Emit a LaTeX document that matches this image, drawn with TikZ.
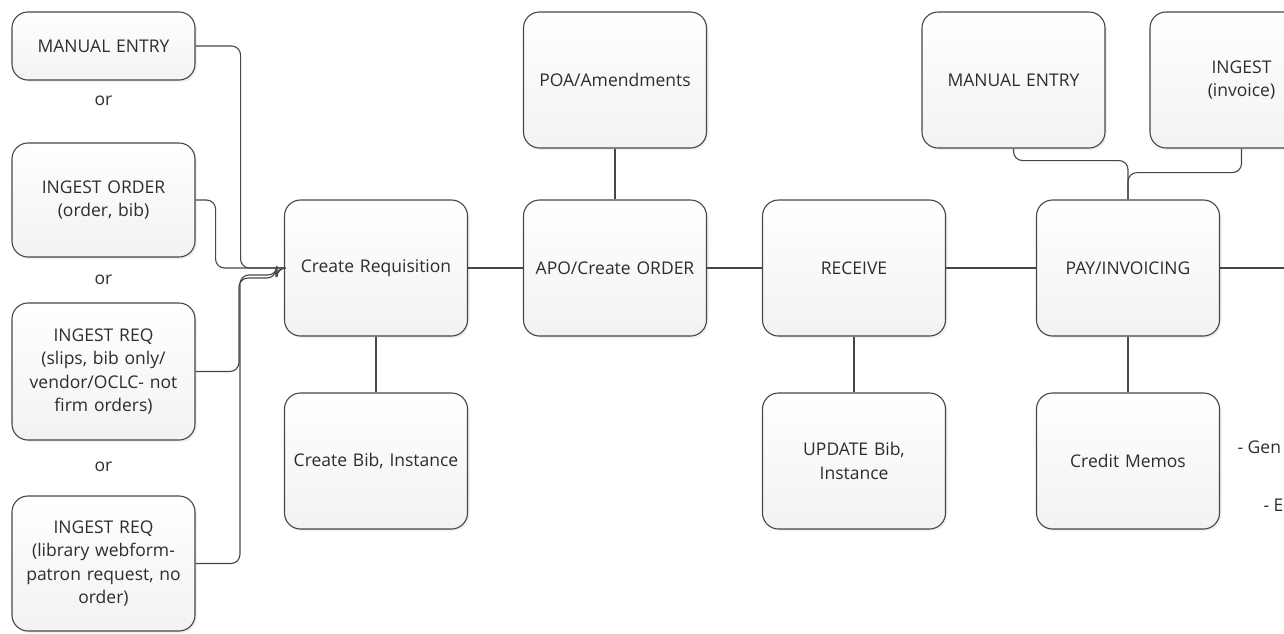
\documentclass[tikz,border=0pt]{standalone}
\usepackage{fontspec}
\setmainfont{Open Sans}
\usetikzlibrary{shapes, positioning, calc, shadows}

\definecolor{edge}{RGB}{70,70,70}
\definecolor{ink}{RGB}{45,45,45}
\tikzstyle{block} = [rectangle, draw=edge, line width=1.1pt, top color=white, bottom color=black!5, text=ink, text width=176pt, align=center, rounded corners=16pt, minimum width=183pt, minimum height=136pt, font=\fontsize{17.5}{23.5}\selectfont, drop shadow={opacity=0.12, shadow xshift=2pt, shadow yshift=-2pt}]
\tikzstyle{link} = [draw=edge, line width=1.1pt, rounded corners=9pt]
\tikzstyle{ortext} = [text=ink, font=\fontsize{17.5}{20}\selectfont]

\begin{document}
\begin{tikzpicture}[x=1pt, y=-1pt]
        \useasboundingbox (0,0) rectangle (1284,633);
        \clip (0,0) rectangle (1284,633);

        % Sources
        \node[block, minimum height=68pt] (man) at (103.5, 46) {MANUAL ENTRY};
        \node[ortext] (or1) at (103.5, 101) {or};
        \node[block, minimum height=114pt] (ord) at (103.5, 200) {INGEST ORDER\\(order, bib)};
        \node[ortext] (or2) at (103.5, 280) {or};
        \node[block, minimum height=137pt] (slp) at (103.5, 371.5) {INGEST REQ\\(slips, bib only/\\vendor/OCLC- not\\firm orders)};
        \node[ortext] (or3) at (103.5, 467) {or};
        \node[block, minimum height=135pt] (lib) at (103.5, 563.5) {INGEST REQ\\(library webform-\\patron request, no\\order)};

        % Main flow
        \node[block] (crq) at (376, 268) {Create Requisition};
        \node[block] (apo) at (615, 268) {APO/Create ORDER};
        \node[block] (rcv) at (854, 268) {RECEIVE};
        \node[block] (pay) at (1128, 268) {PAY/INVOICING};
        \coordinate (rend) at (1290, 268);

        % Above and below
        \node[block] (poa) at (615, 80) {POA/Amendments};
        \node[block] (men) at (1013.5, 80) {MANUAL ENTRY};
        \node[block] (ing) at (1241.5, 80) {INGEST\\(invoice)};
        \node[block] (bib) at (376, 461) {Create Bib, Instance};
        \node[block] (upd) at (854, 461) {UPDATE Bib,\\Instance};
        \node[block] (crm) at (1128, 461) {Credit Memos};

        % Notes cut off at the edge
        \node[ortext, anchor=west] (nt1) at (1234, 447) {- Gen};
        \node[ortext, anchor=west] (nt2) at (1260, 505) {- E};

        % Connectors
        \draw[link] (man.east) -- ++(45,0) |- (crq.west);
        \draw[link] (ord.east) -- ++(20,0) |- (crq.west);
        \draw[link] (slp.east) -| ($(crq.west)+(-45,10)$) -| ($(crq.west)+(-8,0)$) -- (crq.west);
        \draw[link] (lib.east) -| ($(crq.west)+(-44,7)$) -| ($(crq.west)+(-7,0)$) -- (crq.west);
        \draw[link] (crq) -- (apo);
        \draw[link] (apo) -- (rcv);
        \draw[link] (rcv) -- (pay);
        \draw[link] (pay) -- (rend);
        \draw[link] (poa) -- (apo);
        \draw[link] (crq) -- (bib);
        \draw[link] (rcv) -- (upd);
        \draw[link] (pay) -- (crm);
        \draw[link] (men.south) -- ++(0,12) -| (pay.north);
        \draw[link] (ing.south) -- ++(0,24) -| (pay.north);

    \end{tikzpicture}
\end{document}
